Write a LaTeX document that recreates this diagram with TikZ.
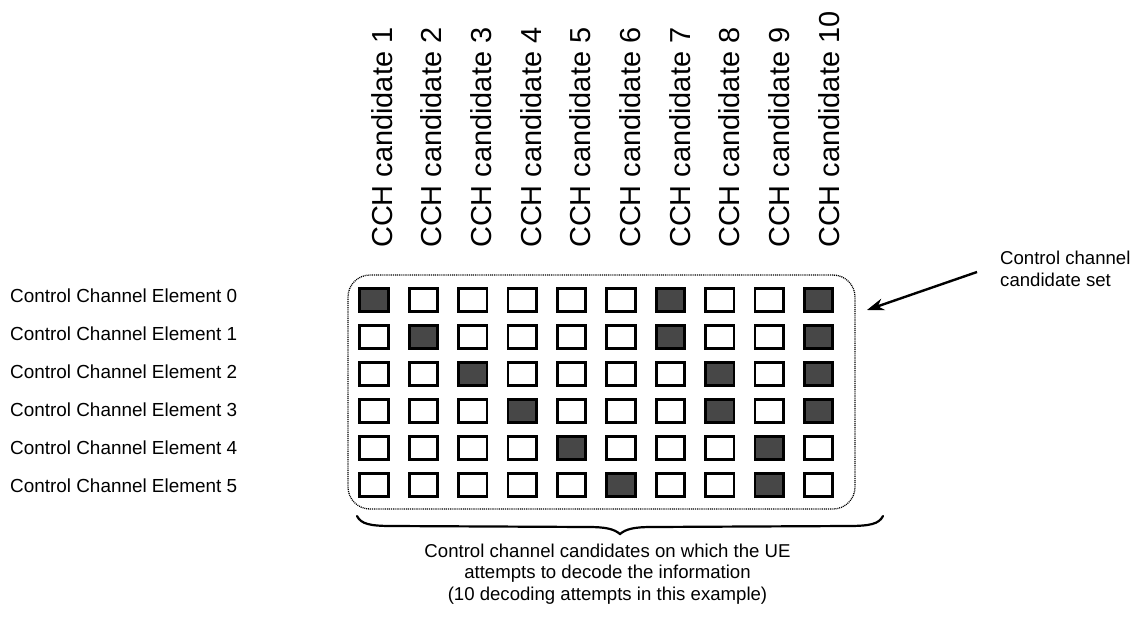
\documentclass[tikz,border=0pt]{standalone}
\usepackage{fontspec}
\setmainfont{Liberation Sans}
\usetikzlibrary{arrows.meta}
\begin{document}
\begin{tikzpicture}[x=1pt,y=-1pt,
  cell/.style={draw=black, line width=2.8pt, minimum width=28.4pt, minimum height=23.4pt, inner sep=0pt},
  collab/.style={rotate=90, anchor=base west, inner sep=0pt, font=\fontsize{28.9}{30}\selectfont},
  rowlab/.style={anchor=base west, inner sep=0pt, font=\fontsize{18.9}{21}\selectfont},
  note/.style={inner sep=0pt, font=\fontsize{18.6}{21.5}\selectfont},
  setbox/.style={draw=black, line width=1.3pt, dash pattern=on 1pt off 0.9pt, rounded corners=22pt, minimum width=507pt, minimum height=234pt, inner sep=0pt},
  pointer/.style={draw=black, line width=2.4pt, -{Stealth[length=17pt,width=12pt]}},
  bracestyle/.style={draw=black, line width=2.2pt, line cap=round},
  f0-1/.style={fill=black!72}, f0-7/.style={fill=black!72}, f0-10/.style={fill=black!72},
  f1-2/.style={fill=black!72}, f1-7/.style={fill=black!72}, f1-10/.style={fill=black!72},
  f2-3/.style={fill=black!72}, f2-8/.style={fill=black!72}, f2-10/.style={fill=black!72},
  f3-4/.style={fill=black!72}, f3-8/.style={fill=black!72}, f3-10/.style={fill=black!72},
  f4-5/.style={fill=black!72}, f4-9/.style={fill=black!72},
  f5-6/.style={fill=black!72}, f5-9/.style={fill=black!72}]
\useasboundingbox (0,0) rectangle (1142,621);
\fill[white] (0,0) rectangle (1142,621);

% column labels
\foreach \c in {1,...,10}
  \node[collab] (col\c) at ({392+49.7*(\c-1)},248) {CCH candidate \c};

% row labels
\foreach \r in {0,...,5}
  \node[rowlab] (row\r) at (10,{302+38*\r}) {Control Channel Element \r};

% dotted candidate set
\node[setbox] (set) at (601.5,392) {};

% cells
\foreach \r in {0,...,5}
  \foreach \c in {1,...,10}
    \node[cell, f\r-\c/.try] (c\r-\c) at ({374+49.4*(\c-1)},{300+37*\r}) {};

% label and arrow
\node[note, anchor=north west, align=left] (setlab) at (1000,251) {Control channel\\candidate set};
\coordinate (a1) at (977,272);
\coordinate (a2) at (867,310);
\draw[pointer] (a1) -- (a2);

% brace
\coordinate (b1) at (357,516);
\coordinate (bt) at (620,534);
\coordinate (b2) at (883,516);
\draw[bracestyle] (b1) .. controls (361,524) and (370,526) .. (392,526)
  -- (588,527) .. controls (606,527) and (614,529) .. (bt)
  .. controls (626,529) and (634,527) .. (652,527)
  -- (848,526) .. controls (870,526) and (879,524) .. (b2);
\node[note, anchor=north, align=center] (desc) at (607.5,543.5) {Control channel candidates on which the UE\\attempts to decode the information\\(10 decoding attempts in this example)};
\end{tikzpicture}
\end{document}
